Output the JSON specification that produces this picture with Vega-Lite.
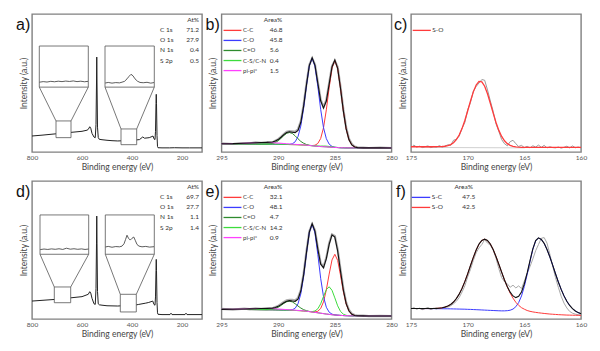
{
"$schema":"https://vega.github.io/schema/vega-lite/v6.json",
"background":"white",
"padding":{"left":15,"top":13,"right":5,"bottom":5},
"config":{
 "view":{"stroke":"#808080","strokeWidth":1.4},
 "axis":{"grid":false,"ticks":false,"domain":false,"labelFont":"Lato","labelFontSize":6.5,"labelColor":"#555","labelPadding":2.5,"labelFlush":false,"labelOverlap":false,"titleFont":"Lato","titleFontSize":8.5,"titleFontWeight":"normal","titleColor":"#444","titlePadding":1},
 "axisY":{"labels":false,"titlePadding":4},
 "text":{"font":"Lato","fontSize":6.5,"color":"#333"},
 "title":{"anchor":"start","frame":"group","offset":-4,"dy":15,"font":"Liberation Sans","fontSize":16,"fontWeight":"normal","color":"#111"}
},
"datasets":{
 "survey_a":[{"x":800,"y":11.6},{"x":760,"y":12.2},{"x":720,"y":12.9},{"x":680,"y":13.6},{"x":640,"y":14.3},{"x":600,"y":15.0},{"x":580,"y":15.8},{"x":575,"y":16.4},{"x":569,"y":18.3},{"x":565,"y":17.2},{"x":560,"y":13.5},{"x":552,"y":10.8},{"x":547,"y":10.4},{"x":544,"y":20},{"x":542,"y":50},{"x":541,"y":68.8},{"x":540,"y":50},{"x":538,"y":18},{"x":535,"y":10.5},{"x":531,"y":9.2},{"x":520,"y":8.9},{"x":500,"y":8.5},{"x":480,"y":8.2},{"x":457,"y":8.0},{"x":430,"y":8.2},{"x":410,"y":8.4},{"x":402,"y":9.2},{"x":398,"y":9.0},{"x":390,"y":8.6},{"x":370,"y":9.0},{"x":357,"y":10.9},{"x":350,"y":10.0},{"x":340,"y":10.2},{"x":331,"y":10.4},{"x":320,"y":11.2},{"x":316,"y":11.6},{"x":312,"y":9.5},{"x":308,"y":9.0},{"x":306,"y":15},{"x":304,"y":35},{"x":303,"y":41.8},{"x":302,"y":35},{"x":300,"y":12},{"x":298,"y":4},{"x":296,"y":3.1},{"x":280,"y":3.0},{"x":250,"y":3.0},{"x":230,"y":3.1},{"x":200,"y":3.0},{"x":170,"y":3.0},{"x":120,"y":3.0}],
 "survey_d":[{"x":800,"y":13.0},{"x":700,"y":14.3},{"x":600,"y":16.2},{"x":575,"y":17.9},{"x":569,"y":19.8},{"x":565,"y":18.8},{"x":560,"y":15.0},{"x":552,"y":11.0},{"x":547,"y":10.6},{"x":544,"y":22},{"x":542,"y":55},{"x":541,"y":74.6},{"x":540,"y":55},{"x":538,"y":20},{"x":535,"y":11.0},{"x":531,"y":10.3},{"x":520,"y":10.0},{"x":500,"y":9.6},{"x":457,"y":9.4},{"x":440,"y":9.6},{"x":420,"y":10.4},{"x":405,"y":11.5},{"x":398,"y":10.8},{"x":390,"y":10.0},{"x":375,"y":10.5},{"x":360,"y":11.0},{"x":345,"y":11.5},{"x":333,"y":12.0},{"x":320,"y":12.8},{"x":317,"y":13.0},{"x":312,"y":10.5},{"x":308,"y":10.0},{"x":306,"y":16},{"x":304,"y":35},{"x":303,"y":43.2},{"x":302,"y":35},{"x":300,"y":12},{"x":298,"y":4.5},{"x":296,"y":3.4},{"x":280,"y":3.2},{"x":248,"y":3.2},{"x":244,"y":4.2},{"x":240,"y":3.2},{"x":188,"y":3.2},{"x":184,"y":4.2},{"x":180,"y":3.2},{"x":140,"y":3.2},{"x":120,"y":3.2}],
 "box_a":[{"x":770.8,"x2":574.8,"y":76.8,"y2":47.0},{"x":704,"x2":644,"y":22.5,"y2":10.4},{"x":508,"x2":310.8,"y":76.8,"y2":47.0},{"x":444,"x2":381.2,"y":16.7,"y2":5.3}],
 "link_a":[{"x":770.8,"y":47.0,"x2":704,"y2":22.5},{"x":574.8,"y":47.0,"x2":644,"y2":22.5},{"x":508,"y":47.0,"x2":444,"y2":16.7},{"x":310.8,"y":47.0,"x2":381.2,"y2":16.7}],
 "trace_a":[{"g":"i1","x":770,"y":50.6},{"g":"i1","x":755,"y":51.0},{"g":"i1","x":740,"y":50.7},{"g":"i1","x":725,"y":51.2},{"g":"i1","x":710,"y":50.9},{"g":"i1","x":695,"y":51.3},{"g":"i1","x":680,"y":51.0},{"g":"i1","x":665,"y":51.4},{"g":"i1","x":650,"y":51.1},{"g":"i1","x":635,"y":51.5},{"g":"i1","x":620,"y":51.0},{"g":"i1","x":605,"y":51.3},{"g":"i1","x":590,"y":50.9},{"g":"i1","x":576,"y":51.2},
  {"g":"i2","x":507,"y":50.0},{"g":"i2","x":495,"y":50.4},{"g":"i2","x":480,"y":49.9},{"g":"i2","x":465,"y":50.3},{"g":"i2","x":450,"y":50.1},{"g":"i2","x":440,"y":50.6},{"g":"i2","x":430,"y":51.2},{"g":"i2","x":420,"y":53.0},{"g":"i2","x":412,"y":54.8},{"g":"i2","x":404,"y":56.3},{"g":"i2","x":396,"y":55.2},{"g":"i2","x":388,"y":53.0},{"g":"i2","x":378,"y":51.3},{"g":"i2","x":368,"y":50.4},{"g":"i2","x":355,"y":50.2},{"g":"i2","x":340,"y":50.5},{"g":"i2","x":325,"y":49.9},{"g":"i2","x":312,"y":50.3}],
 "box_d":[{"x":768,"x2":573.2,"y":75.4,"y2":46.9},{"x":710.8,"x2":645.2,"y":23.2,"y2":11.8},{"x":506.8,"x2":310.8,"y":75.4,"y2":46.9},{"x":446.8,"x2":382.8,"y":17.9,"y2":5.1}],
 "link_d":[{"x":768,"y":46.9,"x2":710.8,"y2":23.2},{"x":573.2,"y":46.9,"x2":645.2,"y2":23.2},{"x":506.8,"y":46.9,"x2":446.8,"y2":17.9},{"x":310.8,"y":46.9,"x2":382.8,"y2":17.9}],
 "trace_d":[{"g":"i1","x":767,"y":50.3},{"g":"i1","x":752,"y":50.7},{"g":"i1","x":737,"y":50.4},{"g":"i1","x":722,"y":50.8},{"g":"i1","x":707,"y":50.5},{"g":"i1","x":692,"y":50.9},{"g":"i1","x":677,"y":50.4},{"g":"i1","x":662,"y":51.3},{"g":"i1","x":647,"y":50.6},{"g":"i1","x":632,"y":50.9},{"g":"i1","x":617,"y":50.5},{"g":"i1","x":602,"y":50.8},{"g":"i1","x":588,"y":50.4},{"g":"i1","x":574,"y":50.7},
  {"g":"i2","x":506,"y":52.2},{"g":"i2","x":495,"y":52.6},{"g":"i2","x":480,"y":52.0},{"g":"i2","x":465,"y":52.5},{"g":"i2","x":450,"y":52.3},{"g":"i2","x":440,"y":52.8},{"g":"i2","x":432,"y":54.5},{"g":"i2","x":426,"y":57.5},{"g":"i2","x":420,"y":60.7},{"g":"i2","x":414,"y":58.5},{"g":"i2","x":407,"y":57.2},{"g":"i2","x":400,"y":58.5},{"g":"i2","x":393,"y":59.4},{"g":"i2","x":387,"y":57.0},{"g":"i2","x":380,"y":54.0},{"g":"i2","x":372,"y":52.8},{"g":"i2","x":360,"y":52.3},{"g":"i2","x":345,"y":52.6},{"g":"i2","x":330,"y":52.1},{"g":"i2","x":312,"y":52.4}],
 "at_a":[{"name":"","val":"At%","r":0},{"name":"C 1s","val":"71.2","r":1},{"name":"O 1s","val":"27.9","r":2},{"name":"N 1s","val":"0.4","r":3},{"name":"S 2p","val":"0.5","r":4}],
 "at_d":[{"name":"","val":"At%","r":0},{"name":"C 1s","val":"69.7","r":1},{"name":"O 1s","val":"27.7","r":2},{"name":"N 1s","val":"1.1","r":3},{"name":"S 2p","val":"1.4","r":4}],
 "hdr":[{"t":"Area%","r":0}],
 "leg_b":[{"series":"C-C","val":"46.8","r":1},{"series":"C-O","val":"45.8","r":2},{"series":"C=O","val":"5.6","r":3},{"series":"C-S/C-N","val":"0.4","r":4},{"series":"pi-pi*","val":"1.5","r":5}],
 "leg_e":[{"series":"C-C","val":"32.1","r":1},{"series":"C-O","val":"48.1","r":2},{"series":"C=O","val":"4.7","r":3},{"series":"C-S/C-N","val":"14.2","r":4},{"series":"pi-pi*","val":"0.9","r":5}],
 "leg_c":[{"series":"S-O","r":1}],
 "leg_f":[{"series":"S-C","val":"47.5","r":1},{"series":"S-O","val":"42.5","r":2}],
 "b":[
  {"x":295,"C-C":6.0,"C-O":6.0,"C=O":6.0,"C-S/C-N":6.0,"pi-pi*":6.01,"fit":6.01,"raw":6.3},
  {"x":294,"C-C":5.95,"C-O":5.95,"C=O":5.95,"C-S/C-N":5.95,"pi-pi*":6.05,"fit":6.05,"raw":5.8},
  {"x":293,"C-C":5.9,"C-O":5.9,"C=O":5.9,"C-S/C-N":5.9,"pi-pi*":6.3,"fit":6.3,"raw":6.5},
  {"x":292.5,"C-C":5.85,"C-O":5.85,"C=O":5.85,"C-S/C-N":5.85,"pi-pi*":6.5,"fit":6.5,"raw":6.3},
  {"x":292,"C-C":5.8,"C-O":5.8,"C=O":5.8,"C-S/C-N":5.8,"pi-pi*":6.7,"fit":6.7,"raw":6.9},
  {"x":291.5,"C-C":5.75,"C-O":5.75,"C=O":5.75,"C-S/C-N":5.75,"pi-pi*":6.85,"fit":6.85,"raw":6.7},
  {"x":291,"C-C":5.7,"C-O":5.7,"C=O":5.76,"C-S/C-N":5.7,"pi-pi*":6.9,"fit":6.96,"raw":7.2},
  {"x":290.5,"C-C":5.65,"C-O":5.65,"C=O":6.15,"C-S/C-N":5.65,"pi-pi*":6.75,"fit":7.25,"raw":7.0},
  {"x":290.25,"C-C":5.6,"C-O":5.6,"C=O":6.9,"C-S/C-N":5.6,"pi-pi*":6.6,"fit":7.9,"raw":8.2},
  {"x":290,"C-C":5.6,"C-O":5.6,"C=O":8.1,"C-S/C-N":5.6,"pi-pi*":6.5,"fit":9.0,"raw":9.3},
  {"x":289.75,"C-C":5.55,"C-O":5.55,"C=O":9.9,"C-S/C-N":5.55,"pi-pi*":6.33,"fit":10.68,"raw":11.0},
  {"x":289.5,"C-C":5.5,"C-O":5.5,"C=O":11.9,"C-S/C-N":5.5,"pi-pi*":6.15,"fit":12.55,"raw":12.9},
  {"x":289.25,"C-C":5.45,"C-O":5.48,"C=O":13.55,"C-S/C-N":5.45,"pi-pi*":5.97,"fit":14.1,"raw":14.6},
  {"x":289,"C-C":5.4,"C-O":5.55,"C=O":14.1,"C-S/C-N":5.4,"pi-pi*":5.8,"fit":14.65,"raw":15.2},
  {"x":288.75,"C-C":5.35,"C-O":5.95,"C=O":13.45,"C-S/C-N":5.35,"pi-pi*":5.65,"fit":14.35,"raw":15.0},
  {"x":288.5,"C-C":5.3,"C-O":7.4,"C=O":11.7,"C-S/C-N":5.3,"pi-pi*":5.52,"fit":14.02,"raw":14.8},
  {"x":288.25,"C-C":5.25,"C-O":11.15,"C=O":9.6,"C-S/C-N":5.25,"pi-pi*":5.4,"fit":15.65,"raw":16.5},
  {"x":288,"C-C":5.15,"C-O":18.95,"C=O":7.65,"C-S/C-N":5.15,"pi-pi*":5.25,"fit":21.55,"raw":22.4},
  {"x":287.75,"C-C":5.05,"C-O":32.05,"C=O":6.35,"C-S/C-N":5.05,"pi-pi*":5.12,"fit":33.42,"raw":34.5},
  {"x":287.5,"C-C":4.9,"C-O":48.3,"C=O":5.4,"C-S/C-N":4.9,"pi-pi*":4.95,"fit":48.85,"raw":49.8},
  {"x":287.25,"C-C":4.73,"C-O":62.4,"C=O":4.9,"C-S/C-N":4.71,"pi-pi*":4.73,"fit":62.67,"raw":63.2},
  {"x":287,"C-C":4.65,"C-O":68.0,"C=O":4.56,"C-S/C-N":4.55,"pi-pi*":4.52,"fit":68.28,"raw":68.0},
  {"x":286.75,"C-C":4.9,"C-O":62.0,"C=O":4.32,"C-S/C-N":4.42,"pi-pi*":4.31,"fit":62.75,"raw":63.4},
  {"x":286.5,"C-C":6.2,"C-O":47.5,"C=O":4.1,"C-S/C-N":4.32,"pi-pi*":4.1,"fit":49.82,"raw":50.8},
  {"x":286.25,"C-C":9.75,"C-O":30.95,"C=O":3.95,"C-S/C-N":4.3,"pi-pi*":3.95,"fit":37.1,"raw":38.0},
  {"x":286,"C-C":17.55,"C-O":17.65,"C=O":3.85,"C-S/C-N":4.32,"pi-pi*":3.85,"fit":31.82,"raw":32.6},
  {"x":285.75,"C-C":30.55,"C-O":9.65,"C=O":3.75,"C-S/C-N":4.25,"pi-pi*":3.75,"fit":36.95,"raw":37.8},
  {"x":285.5,"C-C":46.7,"C-O":5.7,"C=O":3.6,"C-S/C-N":4.02,"pi-pi*":3.6,"fit":49.22,"raw":50.1},
  {"x":285.25,"C-C":60.75,"C-O":4.05,"C=O":3.45,"C-S/C-N":3.75,"pi-pi*":3.45,"fit":61.65,"raw":62.3},
  {"x":285,"C-C":66.3,"C-O":3.45,"C=O":3.3,"C-S/C-N":3.48,"pi-pi*":3.3,"fit":66.63,"raw":66.2},
  {"x":284.75,"C-C":60.5,"C-O":3.23,"C=O":3.2,"C-S/C-N":3.29,"pi-pi*":3.2,"fit":60.62,"raw":61.5},
  {"x":284.5,"C-C":46.2,"C-O":3.1,"C=O":3.1,"C-S/C-N":3.13,"pi-pi*":3.1,"fit":46.23,"raw":47.3},
  {"x":284.25,"C-C":29.85,"C-O":3.05,"C=O":3.05,"C-S/C-N":3.05,"pi-pi*":3.05,"fit":29.85,"raw":31.0},
  {"x":284,"C-C":16.7,"C-O":3.0,"C=O":3.0,"C-S/C-N":3.0,"pi-pi*":3.0,"fit":16.7,"raw":17.8},
  {"x":283.75,"C-C":8.8,"C-O":3.0,"C=O":3.0,"C-S/C-N":3.0,"pi-pi*":3.0,"fit":8.8,"raw":9.6},
  {"x":283.5,"C-C":5.1,"C-O":3.0,"C=O":3.0,"C-S/C-N":3.0,"pi-pi*":3.0,"fit":5.1,"raw":5.8},
  {"x":283.25,"C-C":3.6,"C-O":3.0,"C=O":3.0,"C-S/C-N":3.0,"pi-pi*":3.0,"fit":3.6,"raw":4.0},
  {"x":283,"C-C":3.15,"C-O":3.0,"C=O":3.0,"C-S/C-N":3.0,"pi-pi*":3.0,"fit":3.15,"raw":3.4},
  {"x":282.5,"C-C":3.0,"C-O":3.0,"C=O":3.0,"C-S/C-N":3.0,"pi-pi*":3.0,"fit":3.0,"raw":3.2},
  {"x":282,"C-C":2.98,"C-O":2.98,"C=O":2.98,"C-S/C-N":2.98,"pi-pi*":2.98,"fit":2.98,"raw":2.9},
  {"x":281,"C-C":2.96,"C-O":2.96,"C=O":2.96,"C-S/C-N":2.96,"pi-pi*":2.96,"fit":2.96,"raw":3.1},
  {"x":280,"C-C":2.95,"C-O":2.95,"C=O":2.95,"C-S/C-N":2.95,"pi-pi*":2.95,"fit":2.95,"raw":2.9}],
 "e":[
  {"x":295,"C-C":7.0,"C-O":7.0,"C=O":7.0,"C-S/C-N":7.0,"pi-pi*":7.01,"fit":7.01,"raw":7.3},
  {"x":294,"C-C":6.95,"C-O":6.95,"C=O":6.95,"C-S/C-N":6.95,"pi-pi*":7.03,"fit":7.03,"raw":6.8},
  {"x":293,"C-C":6.9,"C-O":6.9,"C=O":6.9,"C-S/C-N":6.9,"pi-pi*":7.2,"fit":7.2,"raw":7.5},
  {"x":292.5,"C-C":6.85,"C-O":6.85,"C=O":6.85,"C-S/C-N":6.85,"pi-pi*":7.35,"fit":7.35,"raw":7.1},
  {"x":292,"C-C":6.8,"C-O":6.8,"C=O":6.8,"C-S/C-N":6.8,"pi-pi*":7.48,"fit":7.48,"raw":7.8},
  {"x":291.5,"C-C":6.75,"C-O":6.75,"C=O":6.75,"C-S/C-N":6.75,"pi-pi*":7.58,"fit":7.58,"raw":7.4},
  {"x":291,"C-C":6.7,"C-O":6.7,"C=O":6.75,"C-S/C-N":6.7,"pi-pi*":7.6,"fit":7.65,"raw":7.9},
  {"x":290.5,"C-C":6.65,"C-O":6.65,"C=O":7.06,"C-S/C-N":6.65,"pi-pi*":7.48,"fit":7.89,"raw":7.7},
  {"x":290.25,"C-C":6.6,"C-O":6.6,"C=O":7.56,"C-S/C-N":6.6,"pi-pi*":7.37,"fit":8.33,"raw":8.6},
  {"x":290,"C-C":6.55,"C-O":6.55,"C=O":8.48,"C-S/C-N":6.55,"pi-pi*":7.23,"fit":9.16,"raw":9.5},
  {"x":289.75,"C-C":6.5,"C-O":6.5,"C=O":9.8,"C-S/C-N":6.5,"pi-pi*":7.1,"fit":10.4,"raw":10.9},
  {"x":289.5,"C-C":6.45,"C-O":6.45,"C=O":11.3,"C-S/C-N":6.45,"pi-pi*":6.95,"fit":11.8,"raw":12.3},
  {"x":289.25,"C-C":6.4,"C-O":6.42,"C=O":12.5,"C-S/C-N":6.4,"pi-pi*":6.8,"fit":12.92,"raw":13.5},
  {"x":289,"C-C":6.35,"C-O":6.44,"C=O":12.95,"C-S/C-N":6.35,"pi-pi*":6.65,"fit":13.34,"raw":13.9},
  {"x":288.75,"C-C":6.3,"C-O":6.72,"C=O":12.4,"C-S/C-N":6.3,"pi-pi*":6.53,"fit":13.05,"raw":13.8},
  {"x":288.5,"C-C":6.2,"C-O":7.8,"C=O":11.05,"C-S/C-N":6.2,"pi-pi*":6.37,"fit":12.82,"raw":13.6},
  {"x":288.25,"C-C":6.1,"C-O":11.0,"C=O":9.4,"C-S/C-N":6.1,"pi-pi*":6.22,"fit":14.42,"raw":15.3},
  {"x":288,"C-C":6.0,"C-O":18.3,"C=O":7.93,"C-S/C-N":6.0,"pi-pi*":6.08,"fit":20.31,"raw":21.2},
  {"x":287.75,"C-C":5.8,"C-O":31.1,"C=O":6.76,"C-S/C-N":5.8,"pi-pi*":5.85,"fit":32.11,"raw":33.2},
  {"x":287.5,"C-C":5.6,"C-O":47.8,"C=O":6.01,"C-S/C-N":5.6,"pi-pi*":5.63,"fit":48.24,"raw":49.3},
  {"x":287.25,"C-C":5.36,"C-O":62.75,"C=O":5.5,"C-S/C-N":5.4,"pi-pi*":5.37,"fit":62.98,"raw":63.6},
  {"x":287,"C-C":5.16,"C-O":68.7,"C=O":5.15,"C-S/C-N":5.36,"pi-pi*":5.11,"fit":69.08,"raw":68.8},
  {"x":286.75,"C-C":5.09,"C-O":62.2,"C=O":4.81,"C-S/C-N":5.8,"pi-pi*":4.8,"fit":63.5,"raw":64.3},
  {"x":286.5,"C-C":5.6,"C-O":46.7,"C=O":4.5,"C-S/C-N":7.4,"pi-pi*":4.5,"fit":50.7,"raw":51.7},
  {"x":286.25,"C-C":7.6,"C-O":29.5,"C=O":4.2,"C-S/C-N":11.0,"pi-pi*":4.2,"fit":39.7,"raw":40.6},
  {"x":286,"C-C":12.4,"C-O":16.2,"C=O":3.9,"C-S/C-N":16.3,"pi-pi*":3.9,"fit":37.1,"raw":37.8},
  {"x":285.75,"C-C":21.1,"C-O":8.5,"C=O":3.6,"C-S/C-N":21.3,"pi-pi*":3.6,"fit":43.7,"raw":44.5},
  {"x":285.5,"C-C":32.55,"C-O":4.95,"C=O":3.35,"C-S/C-N":23.35,"pi-pi*":3.35,"fit":54.15,"raw":55.0},
  {"x":285.25,"C-C":42.8,"C-O":3.52,"C=O":3.1,"C-S/C-N":20.8,"pi-pi*":3.1,"fit":60.92,"raw":61.3},
  {"x":285,"C-C":46.9,"C-O":2.99,"C=O":2.9,"C-S/C-N":15.3,"pi-pi*":2.9,"fit":59.39,"raw":60.2},
  {"x":284.75,"C-C":42.45,"C-O":2.77,"C=O":2.75,"C-S/C-N":9.55,"pi-pi*":2.75,"fit":49.27,"raw":50.4},
  {"x":284.5,"C-C":31.8,"C-O":2.6,"C=O":2.6,"C-S/C-N":5.5,"pi-pi*":2.6,"fit":34.7,"raw":35.9},
  {"x":284.25,"C-C":20.0,"C-O":2.5,"C=O":2.5,"C-S/C-N":3.5,"pi-pi*":2.5,"fit":21.0,"raw":22.2},
  {"x":284,"C-C":10.9,"C-O":2.4,"C=O":2.4,"C-S/C-N":2.66,"pi-pi*":2.4,"fit":11.16,"raw":12.0},
  {"x":283.75,"C-C":5.75,"C-O":2.35,"C=O":2.35,"C-S/C-N":2.4,"pi-pi*":2.35,"fit":5.8,"raw":6.5},
  {"x":283.5,"C-C":3.4,"C-O":2.3,"C=O":2.3,"C-S/C-N":2.3,"pi-pi*":2.3,"fit":3.4,"raw":3.9},
  {"x":283.25,"C-C":2.59,"C-O":2.3,"C=O":2.3,"C-S/C-N":2.3,"pi-pi*":2.3,"fit":2.59,"raw":2.9},
  {"x":283,"C-C":2.31,"C-O":2.25,"C=O":2.25,"C-S/C-N":2.25,"pi-pi*":2.25,"fit":2.31,"raw":2.5},
  {"x":282.5,"C-C":2.25,"C-O":2.25,"C=O":2.25,"C-S/C-N":2.25,"pi-pi*":2.25,"fit":2.25,"raw":2.4},
  {"x":282,"C-C":2.2,"C-O":2.2,"C=O":2.2,"C-S/C-N":2.2,"pi-pi*":2.2,"fit":2.2,"raw":2.1},
  {"x":281,"C-C":2.2,"C-O":2.2,"C=O":2.2,"C-S/C-N":2.2,"pi-pi*":2.2,"fit":2.2,"raw":2.3},
  {"x":280,"C-C":2.2,"C-O":2.2,"C=O":2.2,"C-S/C-N":2.2,"pi-pi*":2.2,"fit":2.2,"raw":2.1}],
 "c":[
  {"x":175,"S-O":3.8,"raw":3.0},{"x":174.75,"S-O":3.8,"raw":5.0},{"x":174.5,"S-O":3.8,"raw":3.5},{"x":174.25,"S-O":3.8,"raw":4.2},{"x":174,"S-O":3.8,"raw":3.2},{"x":173.75,"S-O":3.8,"raw":3.9},{"x":173.5,"S-O":3.8,"raw":4.4},{"x":173.25,"S-O":3.81,"raw":3.1},{"x":173,"S-O":3.82,"raw":4.0},{"x":172.75,"S-O":3.84,"raw":3.4},{"x":172.5,"S-O":3.87,"raw":4.6},{"x":172.25,"S-O":3.97,"raw":3.6},{"x":172,"S-O":4.18,"raw":4.3},{"x":171.75,"S-O":4.61,"raw":5.2},{"x":171.5,"S-O":5.39,"raw":4.8},{"x":171.25,"S-O":6.76,"raw":8.5},{"x":171,"S-O":8.97,"raw":9.2},{"x":170.75,"S-O":12.32,"raw":11.5},{"x":170.5,"S-O":16.94,"raw":17.0},{"x":170.25,"S-O":22.85,"raw":21.5},{"x":170,"S-O":29.75,"raw":30.5},{"x":169.75,"S-O":36.95,"raw":36.0},{"x":169.5,"S-O":43.57,"raw":44.0},{"x":169.25,"S-O":48.57,"raw":47.5},{"x":169,"S-O":51.18,"raw":50.0},{"x":168.75,"S-O":50.87,"raw":52.5},{"x":168.5,"S-O":47.7,"raw":52.0},{"x":168.25,"S-O":42.23,"raw":45.0},{"x":168,"S-O":35.37,"raw":37.0},{"x":167.75,"S-O":28.14,"raw":29.5},{"x":167.5,"S-O":21.38,"raw":20.5},{"x":167.25,"S-O":15.66,"raw":15.0},{"x":167,"S-O":11.27,"raw":9.0},{"x":166.75,"S-O":8.13,"raw":6.0},{"x":166.5,"S-O":6.07,"raw":4.5},{"x":166.25,"S-O":4.81,"raw":7.5},{"x":166,"S-O":4.08,"raw":8.5},{"x":165.75,"S-O":3.69,"raw":6.0},{"x":165.5,"S-O":3.49,"raw":4.0},{"x":165.25,"S-O":3.4,"raw":4.8},{"x":165,"S-O":3.35,"raw":3.2},{"x":164.75,"S-O":3.33,"raw":4.1},{"x":164.5,"S-O":3.32,"raw":3.0},{"x":164.25,"S-O":3.31,"raw":4.5},{"x":164,"S-O":3.3,"raw":3.6},{"x":163.75,"S-O":3.3,"raw":5.0},{"x":163.5,"S-O":3.3,"raw":3.4},{"x":163.25,"S-O":3.3,"raw":4.8},{"x":163,"S-O":3.3,"raw":3.0},{"x":162.75,"S-O":3.3,"raw":3.8},{"x":162.5,"S-O":3.3,"raw":3.2},{"x":162.25,"S-O":3.3,"raw":3.0},{"x":162,"S-O":3.3,"raw":3.6},{"x":161.75,"S-O":3.3,"raw":2.8},{"x":161.5,"S-O":3.3,"raw":3.4},{"x":161.25,"S-O":3.3,"raw":4.2},{"x":161,"S-O":3.3,"raw":3.0},{"x":160.75,"S-O":3.3,"raw":4.4},{"x":160.5,"S-O":3.3,"raw":3.1},{"x":160.25,"S-O":3.3,"raw":3.6},{"x":160,"S-O":3.3,"raw":3.0}],
 "bg_c":[{"x":174,"y":3.3},{"x":165,"y":3.0}],
 "f":[
  {"x":175,"S-O":7.6,"S-C":7.6,"fit":7.6,"raw":7.2},{"x":174.75,"S-O":7.6,"S-C":7.6,"fit":7.6,"raw":8.3},{"x":174.5,"S-O":7.6,"S-C":7.6,"fit":7.6,"raw":7.0},{"x":174.25,"S-O":7.6,"S-C":7.6,"fit":7.6,"raw":7.9},{"x":174,"S-O":7.55,"S-C":7.55,"fit":7.55,"raw":6.8},{"x":173.75,"S-O":7.56,"S-C":7.55,"fit":7.56,"raw":7.6},{"x":173.5,"S-O":7.57,"S-C":7.55,"fit":7.57,"raw":8.4},{"x":173.25,"S-O":7.55,"S-C":7.5,"fit":7.55,"raw":7.1},{"x":173,"S-O":7.6,"S-C":7.5,"fit":7.6,"raw":7.8},{"x":172.75,"S-O":7.7,"S-C":7.5,"fit":7.7,"raw":7.2},{"x":172.5,"S-O":7.82,"S-C":7.45,"fit":7.82,"raw":8.1},{"x":172.25,"S-O":8.12,"S-C":7.45,"fit":8.12,"raw":7.5},{"x":172,"S-O":8.6,"S-C":7.4,"fit":8.6,"raw":8.8},{"x":171.75,"S-O":9.4,"S-C":7.4,"fit":9.4,"raw":8.6},{"x":171.5,"S-O":10.55,"S-C":7.35,"fit":10.55,"raw":9.6},{"x":171.25,"S-O":12.3,"S-C":7.3,"fit":12.3,"raw":11.0},{"x":171,"S-O":14.75,"S-C":7.25,"fit":14.75,"raw":12.8},{"x":170.75,"S-O":18.0,"S-C":7.2,"fit":18.0,"raw":15.5},{"x":170.5,"S-O":22.15,"S-C":7.15,"fit":22.15,"raw":19.5},{"x":170.25,"S-O":27.1,"S-C":7.1,"fit":27.1,"raw":24.0},{"x":170,"S-O":32.7,"S-C":7.0,"fit":32.7,"raw":30.5},{"x":169.75,"S-O":38.75,"S-C":6.95,"fit":38.75,"raw":36.0},{"x":169.5,"S-O":44.65,"S-C":6.85,"fit":44.65,"raw":42.5},{"x":169.25,"S-O":49.95,"S-C":6.75,"fit":49.95,"raw":48.0},{"x":169,"S-O":54.25,"S-C":6.65,"fit":54.25,"raw":51.5},{"x":168.75,"S-O":56.95,"S-C":6.55,"fit":56.95,"raw":54.0},{"x":168.5,"S-O":57.85,"S-C":6.45,"fit":57.85,"raw":57.5},{"x":168.25,"S-O":56.85,"S-C":6.35,"fit":56.85,"raw":55.0},{"x":168,"S-O":54.35,"S-C":6.25,"fit":54.35,"raw":53.5},{"x":167.75,"S-O":50.35,"S-C":6.15,"fit":50.35,"raw":50.0},{"x":167.5,"S-O":45.25,"S-C":6.05,"fit":45.25,"raw":44.0},{"x":167.25,"S-O":39.65,"S-C":5.96,"fit":39.66,"raw":36.5},{"x":167,"S-O":33.85,"S-C":5.89,"fit":33.89,"raw":30.0},{"x":166.75,"S-O":28.2,"S-C":5.91,"fit":28.31,"raw":27.0},{"x":166.5,"S-O":23.15,"S-C":6.04,"fit":23.44,"raw":25.5},{"x":166.25,"S-O":18.75,"S-C":6.36,"fit":19.46,"raw":23.0},{"x":166,"S-O":15.1,"S-C":7.2,"fit":16.7,"raw":24.5},{"x":165.75,"S-O":12.1,"S-C":8.9,"fit":15.5,"raw":22.5},{"x":165.5,"S-O":9.9,"S-C":11.9,"fit":16.4,"raw":24.0},{"x":165.25,"S-O":8.2,"S-C":16.7,"fit":19.6,"raw":22.0},{"x":165,"S-O":7.1,"S-C":23.6,"fit":25.5,"raw":27.5},{"x":164.75,"S-O":6.15,"S-C":32.25,"fit":33.35,"raw":33.0},{"x":164.5,"S-O":5.57,"S-C":41.7,"fit":42.37,"raw":38.0},{"x":164.25,"S-O":5.14,"S-C":50.45,"fit":50.84,"raw":43.5},{"x":164,"S-O":4.81,"S-C":56.6,"fit":56.81,"raw":49.5},{"x":163.75,"S-O":4.51,"S-C":58.7,"fit":58.81,"raw":54.0},{"x":163.5,"S-O":4.26,"S-C":57.6,"fit":57.66,"raw":58.5},{"x":163.25,"S-O":4.03,"S-C":54.8,"fit":54.83,"raw":59.0},{"x":163,"S-O":3.8,"S-C":50.4,"fit":50.4,"raw":55.0},{"x":162.75,"S-O":3.6,"S-C":45.0,"fit":45.0,"raw":47.0},{"x":162.5,"S-O":3.45,"S-C":39.05,"fit":39.05,"raw":38.5},{"x":162.25,"S-O":3.3,"S-C":32.8,"fit":32.8,"raw":30.0},{"x":162,"S-O":3.15,"S-C":26.85,"fit":26.85,"raw":23.0},{"x":161.75,"S-O":3.05,"S-C":21.45,"fit":21.45,"raw":16.5},{"x":161.5,"S-O":2.95,"S-C":16.75,"fit":16.75,"raw":11.5},{"x":161.25,"S-O":2.85,"S-C":12.85,"fit":12.85,"raw":8.0},{"x":161,"S-O":2.8,"S-C":9.8,"fit":9.8,"raw":5.5},{"x":160.75,"S-O":2.75,"S-C":7.5,"fit":7.5,"raw":4.2},{"x":160.5,"S-O":2.7,"S-C":5.8,"fit":5.8,"raw":3.5},{"x":160.25,"S-O":2.65,"S-C":4.62,"fit":4.62,"raw":3.1},{"x":160,"S-O":2.6,"S-C":3.8,"fit":3.8,"raw":2.8}]
},
"concat":[
 {"width":170,"height":138,"title":{"text":"a)","dx":-16},"resolve":{"scale":{"y":"independent"}},
  "layer":[
   {"data":{"name":"survey_a"},"mark":{"type":"line","color":"#222","strokeWidth":1},
    "encoding":{"x":{"field":"x","type":"quantitative","scale":{"domain":[800,120],"nice":false,"zero":false},"axis":{"values":[800,600,400,200],"title":"Binding energy (eV)"}},"y":{"field":"y","type":"quantitative","scale":{"domain":[0,100],"nice":false},"axis":{"title":"Intensity (a.u.)"}}}},
   {"data":{"name":"box_a"},"mark":{"type":"rect","fill":"white","stroke":"#555","strokeWidth":0.8},
    "encoding":{"x":{"field":"x","type":"quantitative","scale":{"domain":[800,120],"nice":false,"zero":false},"axis":{"values":[800,600,400,200],"title":"Binding energy (eV)"}},"x2":{"field":"x2"},"y":{"field":"y","type":"quantitative","scale":{"domain":[0,100],"nice":false},"axis":null},"y2":{"field":"y2"}}},
   {"data":{"name":"link_a"},"mark":{"type":"rule","color":"#555","strokeWidth":0.8},
    "encoding":{"x":{"field":"x","type":"quantitative","scale":{"domain":[800,120],"nice":false,"zero":false},"axis":{"values":[800,600,400,200],"title":"Binding energy (eV)"}},"x2":{"field":"x2"},"y":{"field":"y","type":"quantitative","scale":{"domain":[0,100],"nice":false},"axis":null},"y2":{"field":"y2"}}},
   {"data":{"name":"trace_a"},"mark":{"type":"line","color":"#333","strokeWidth":0.8},
    "encoding":{"x":{"field":"x","type":"quantitative","scale":{"domain":[800,120],"nice":false,"zero":false},"axis":{"values":[800,600,400,200],"title":"Binding energy (eV)"}},"y":{"field":"y","type":"quantitative","scale":{"domain":[0,100],"nice":false},"axis":null},"detail":{"field":"g","type":"nominal"}}},
   {"data":{"name":"at_a"},"mark":{"type":"text","align":"left","baseline":"middle"},
    "encoding":{"x":{"datum":288,"type":"quantitative","scale":{"domain":[800,120],"nice":false,"zero":false},"axis":{"values":[800,600,400,200],"title":"Binding energy (eV)"}},"y":{"field":"r","type":"quantitative","scale":{"domain":[13.1,-0.63],"nice":false,"zero":false},"axis":null},"text":{"field":"name","type":"nominal"}}},
   {"data":{"name":"at_a"},"mark":{"type":"text","align":"right","baseline":"middle"},
    "encoding":{"x":{"datum":132,"type":"quantitative","scale":{"domain":[800,120],"nice":false,"zero":false},"axis":{"values":[800,600,400,200],"title":"Binding energy (eV)"}},"y":{"field":"r","type":"quantitative","scale":{"domain":[13.1,-0.63],"nice":false,"zero":false},"axis":null},"text":{"field":"val","type":"nominal"}}}
  ]},
 {"width":170,"height":138,"title":{"text":"b)","dx":-16},"resolve":{"scale":{"y":"independent"}},
  "layer":[
   {"data":{"name":"b"},"transform":[{"fold":["raw"],"as":["k","y"]}],"mark":{"type":"line","color":"#b0b0b0","strokeWidth":2.2},
    "encoding":{"x":{"field":"x","type":"quantitative","scale":{"domain":[295,280],"nice":false,"zero":false},"axis":{"values":[295,290,285,280],"title":"Binding energy (eV)"}},"y":{"field":"y","type":"quantitative","scale":{"domain":[0,100],"nice":false},"axis":{"title":"Intensity (a.u.)"}}}},
   {"data":{"name":"b"},"transform":[{"fold":["C-C","C-O","C=O","C-S/C-N","pi-pi*"],"as":["series","y"]}],"mark":{"type":"line","strokeWidth":1},
    "encoding":{"x":{"field":"x","type":"quantitative","scale":{"domain":[295,280],"nice":false,"zero":false},"axis":{"values":[295,290,285,280],"title":"Binding energy (eV)"}},"y":{"field":"y","type":"quantitative","scale":{"domain":[0,100],"nice":false},"axis":null},
     "color":{"field":"series","type":"nominal","scale":{"domain":["C-C","C-O","C=O","C-S/C-N","pi-pi*","S-C","S-O"],"range":["#ff3b3b","#3c3cff","#2e8b2e","#3ddc3d","#ff40ff","#3c3cff","#ff3b3b"]},"legend":null}}},
   {"data":{"name":"b"},"transform":[{"fold":["fit"],"as":["k","y"]}],"mark":{"type":"line","color":"#111","strokeWidth":1.1},
    "encoding":{"x":{"field":"x","type":"quantitative","scale":{"domain":[295,280],"nice":false,"zero":false},"axis":{"values":[295,290,285,280],"title":"Binding energy (eV)"}},"y":{"field":"y","type":"quantitative","scale":{"domain":[0,100],"nice":false},"axis":null}}},
   {"data":{"name":"leg_b"},"mark":{"type":"rule","strokeWidth":1.3},
    "encoding":{"x":{"datum":294.82,"type":"quantitative","scale":{"domain":[295,280],"nice":false,"zero":false},"axis":{"values":[295,290,285,280],"title":"Binding energy (eV)"}},"x2":{"datum":293.24},"y":{"field":"r","type":"quantitative","scale":{"domain":[13.1,-0.63],"nice":false,"zero":false},"axis":null},
     "color":{"field":"series","type":"nominal","scale":{"domain":["C-C","C-O","C=O","C-S/C-N","pi-pi*","S-C","S-O"],"range":["#ff3b3b","#3c3cff","#2e8b2e","#3ddc3d","#ff40ff","#3c3cff","#ff3b3b"]},"legend":null}}},
   {"data":{"name":"leg_b"},"mark":{"type":"text","align":"left","baseline":"middle","fontSize":6},
    "encoding":{"x":{"datum":293.1,"type":"quantitative","scale":{"domain":[295,280],"nice":false,"zero":false},"axis":{"values":[295,290,285,280],"title":"Binding energy (eV)"}},"y":{"field":"r","type":"quantitative","scale":{"domain":[13.1,-0.63],"nice":false,"zero":false},"axis":null},"text":{"field":"series","type":"nominal"}}},
   {"data":{"name":"leg_b"},"mark":{"type":"text","align":"left","baseline":"middle"},
    "encoding":{"x":{"datum":290.75,"type":"quantitative","scale":{"domain":[295,280],"nice":false,"zero":false},"axis":{"values":[295,290,285,280],"title":"Binding energy (eV)"}},"y":{"field":"r","type":"quantitative","scale":{"domain":[13.1,-0.63],"nice":false,"zero":false},"axis":null},"text":{"field":"val","type":"nominal"}}},
   {"data":{"name":"hdr"},"mark":{"type":"text","align":"center","baseline":"middle"},
    "encoding":{"x":{"datum":290.45,"type":"quantitative","scale":{"domain":[295,280],"nice":false,"zero":false},"axis":{"values":[295,290,285,280],"title":"Binding energy (eV)"}},"y":{"field":"r","type":"quantitative","scale":{"domain":[13.1,-0.63],"nice":false,"zero":false},"axis":null},"text":{"field":"t","type":"nominal"}}}
  ]},
 {"width":170,"height":138,"title":{"text":"c)","dx":-17},"resolve":{"scale":{"y":"independent"}},
  "layer":[
   {"data":{"name":"bg_c"},"mark":{"type":"line","color":"#d0d0d0","strokeWidth":1},
    "encoding":{"x":{"field":"x","type":"quantitative","scale":{"domain":[175,160],"nice":false,"zero":false},"axis":{"values":[175,170,165,160],"title":"Binding energy (eV)"}},"y":{"field":"y","type":"quantitative","scale":{"domain":[0,100],"nice":false},"axis":{"title":"Intensity (a.u.)"}}}},
   {"data":{"name":"c"},"transform":[{"fold":["raw"],"as":["k","y"]}],"mark":{"type":"line","color":"#9a9a9a","strokeWidth":1},
    "encoding":{"x":{"field":"x","type":"quantitative","scale":{"domain":[175,160],"nice":false,"zero":false},"axis":{"values":[175,170,165,160],"title":"Binding energy (eV)"}},"y":{"field":"y","type":"quantitative","scale":{"domain":[0,100],"nice":false},"axis":null}}},
   {"data":{"name":"c"},"transform":[{"fold":["S-O"],"as":["series","y"]}],"mark":{"type":"line","strokeWidth":1.3},
    "encoding":{"x":{"field":"x","type":"quantitative","scale":{"domain":[175,160],"nice":false,"zero":false},"axis":{"values":[175,170,165,160],"title":"Binding energy (eV)"}},"y":{"field":"y","type":"quantitative","scale":{"domain":[0,100],"nice":false},"axis":null},
     "color":{"field":"series","type":"nominal","scale":{"domain":["C-C","C-O","C=O","C-S/C-N","pi-pi*","S-C","S-O"],"range":["#ff3b3b","#3c3cff","#2e8b2e","#3ddc3d","#ff40ff","#3c3cff","#ff3b3b"]},"legend":null}}},
   {"data":{"name":"leg_c"},"mark":{"type":"rule","strokeWidth":1.3},
    "encoding":{"x":{"datum":174.85,"type":"quantitative","scale":{"domain":[175,160],"nice":false,"zero":false},"axis":{"values":[175,170,165,160],"title":"Binding energy (eV)"}},"x2":{"datum":173.25},"y":{"field":"r","type":"quantitative","scale":{"domain":[13.1,-0.63],"nice":false,"zero":false},"axis":null},
     "color":{"field":"series","type":"nominal","scale":{"domain":["C-C","C-O","C=O","C-S/C-N","pi-pi*","S-C","S-O"],"range":["#ff3b3b","#3c3cff","#2e8b2e","#3ddc3d","#ff40ff","#3c3cff","#ff3b3b"]},"legend":null}}},
   {"data":{"name":"leg_c"},"mark":{"type":"text","align":"left","baseline":"middle"},
    "encoding":{"x":{"datum":173.12,"type":"quantitative","scale":{"domain":[175,160],"nice":false,"zero":false},"axis":{"values":[175,170,165,160],"title":"Binding energy (eV)"}},"y":{"field":"r","type":"quantitative","scale":{"domain":[13.1,-0.63],"nice":false,"zero":false},"axis":null},"text":{"field":"series","type":"nominal"}}}
  ]},
 {"width":170,"height":138,"title":{"text":"d)","dx":-16},"resolve":{"scale":{"y":"independent"}},
  "layer":[
   {"data":{"name":"survey_d"},"mark":{"type":"line","color":"#222","strokeWidth":1},
    "encoding":{"x":{"field":"x","type":"quantitative","scale":{"domain":[800,120],"nice":false,"zero":false},"axis":{"values":[800,600,400,200],"title":"Binding energy (eV)"}},"y":{"field":"y","type":"quantitative","scale":{"domain":[0,100],"nice":false},"axis":{"title":"Intensity (a.u.)"}}}},
   {"data":{"name":"box_d"},"mark":{"type":"rect","fill":"white","stroke":"#555","strokeWidth":0.8},
    "encoding":{"x":{"field":"x","type":"quantitative","scale":{"domain":[800,120],"nice":false,"zero":false},"axis":{"values":[800,600,400,200],"title":"Binding energy (eV)"}},"x2":{"field":"x2"},"y":{"field":"y","type":"quantitative","scale":{"domain":[0,100],"nice":false},"axis":null},"y2":{"field":"y2"}}},
   {"data":{"name":"link_d"},"mark":{"type":"rule","color":"#555","strokeWidth":0.8},
    "encoding":{"x":{"field":"x","type":"quantitative","scale":{"domain":[800,120],"nice":false,"zero":false},"axis":{"values":[800,600,400,200],"title":"Binding energy (eV)"}},"x2":{"field":"x2"},"y":{"field":"y","type":"quantitative","scale":{"domain":[0,100],"nice":false},"axis":null},"y2":{"field":"y2"}}},
   {"data":{"name":"trace_d"},"mark":{"type":"line","color":"#333","strokeWidth":0.8},
    "encoding":{"x":{"field":"x","type":"quantitative","scale":{"domain":[800,120],"nice":false,"zero":false},"axis":{"values":[800,600,400,200],"title":"Binding energy (eV)"}},"y":{"field":"y","type":"quantitative","scale":{"domain":[0,100],"nice":false},"axis":null},"detail":{"field":"g","type":"nominal"}}},
   {"data":{"name":"at_d"},"mark":{"type":"text","align":"left","baseline":"middle"},
    "encoding":{"x":{"datum":288,"type":"quantitative","scale":{"domain":[800,120],"nice":false,"zero":false},"axis":{"values":[800,600,400,200],"title":"Binding energy (eV)"}},"y":{"field":"r","type":"quantitative","scale":{"domain":[13.1,-0.63],"nice":false,"zero":false},"axis":null},"text":{"field":"name","type":"nominal"}}},
   {"data":{"name":"at_d"},"mark":{"type":"text","align":"right","baseline":"middle"},
    "encoding":{"x":{"datum":132,"type":"quantitative","scale":{"domain":[800,120],"nice":false,"zero":false},"axis":{"values":[800,600,400,200],"title":"Binding energy (eV)"}},"y":{"field":"r","type":"quantitative","scale":{"domain":[13.1,-0.63],"nice":false,"zero":false},"axis":null},"text":{"field":"val","type":"nominal"}}}
  ]},
 {"width":170,"height":138,"title":{"text":"e)","dx":-16},"resolve":{"scale":{"y":"independent"}},
  "layer":[
   {"data":{"name":"e"},"transform":[{"fold":["raw"],"as":["k","y"]}],"mark":{"type":"line","color":"#b0b0b0","strokeWidth":2.2},
    "encoding":{"x":{"field":"x","type":"quantitative","scale":{"domain":[295,280],"nice":false,"zero":false},"axis":{"values":[295,290,285,280],"title":"Binding energy (eV)"}},"y":{"field":"y","type":"quantitative","scale":{"domain":[0,100],"nice":false},"axis":{"title":"Intensity (a.u.)"}}}},
   {"data":{"name":"e"},"transform":[{"fold":["C-C","C-O","C=O","C-S/C-N","pi-pi*"],"as":["series","y"]}],"mark":{"type":"line","strokeWidth":1},
    "encoding":{"x":{"field":"x","type":"quantitative","scale":{"domain":[295,280],"nice":false,"zero":false},"axis":{"values":[295,290,285,280],"title":"Binding energy (eV)"}},"y":{"field":"y","type":"quantitative","scale":{"domain":[0,100],"nice":false},"axis":null},
     "color":{"field":"series","type":"nominal","scale":{"domain":["C-C","C-O","C=O","C-S/C-N","pi-pi*","S-C","S-O"],"range":["#ff3b3b","#3c3cff","#2e8b2e","#3ddc3d","#ff40ff","#3c3cff","#ff3b3b"]},"legend":null}}},
   {"data":{"name":"e"},"transform":[{"fold":["fit"],"as":["k","y"]}],"mark":{"type":"line","color":"#111","strokeWidth":1.1},
    "encoding":{"x":{"field":"x","type":"quantitative","scale":{"domain":[295,280],"nice":false,"zero":false},"axis":{"values":[295,290,285,280],"title":"Binding energy (eV)"}},"y":{"field":"y","type":"quantitative","scale":{"domain":[0,100],"nice":false},"axis":null}}},
   {"data":{"name":"leg_e"},"mark":{"type":"rule","strokeWidth":1.3},
    "encoding":{"x":{"datum":294.82,"type":"quantitative","scale":{"domain":[295,280],"nice":false,"zero":false},"axis":{"values":[295,290,285,280],"title":"Binding energy (eV)"}},"x2":{"datum":293.24},"y":{"field":"r","type":"quantitative","scale":{"domain":[13.1,-0.63],"nice":false,"zero":false},"axis":null},
     "color":{"field":"series","type":"nominal","scale":{"domain":["C-C","C-O","C=O","C-S/C-N","pi-pi*","S-C","S-O"],"range":["#ff3b3b","#3c3cff","#2e8b2e","#3ddc3d","#ff40ff","#3c3cff","#ff3b3b"]},"legend":null}}},
   {"data":{"name":"leg_e"},"mark":{"type":"text","align":"left","baseline":"middle","fontSize":6},
    "encoding":{"x":{"datum":293.1,"type":"quantitative","scale":{"domain":[295,280],"nice":false,"zero":false},"axis":{"values":[295,290,285,280],"title":"Binding energy (eV)"}},"y":{"field":"r","type":"quantitative","scale":{"domain":[13.1,-0.63],"nice":false,"zero":false},"axis":null},"text":{"field":"series","type":"nominal"}}},
   {"data":{"name":"leg_e"},"mark":{"type":"text","align":"left","baseline":"middle"},
    "encoding":{"x":{"datum":290.75,"type":"quantitative","scale":{"domain":[295,280],"nice":false,"zero":false},"axis":{"values":[295,290,285,280],"title":"Binding energy (eV)"}},"y":{"field":"r","type":"quantitative","scale":{"domain":[13.1,-0.63],"nice":false,"zero":false},"axis":null},"text":{"field":"val","type":"nominal"}}},
   {"data":{"name":"hdr"},"mark":{"type":"text","align":"center","baseline":"middle"},
    "encoding":{"x":{"datum":290.45,"type":"quantitative","scale":{"domain":[295,280],"nice":false,"zero":false},"axis":{"values":[295,290,285,280],"title":"Binding energy (eV)"}},"y":{"field":"r","type":"quantitative","scale":{"domain":[13.1,-0.63],"nice":false,"zero":false},"axis":null},"text":{"field":"t","type":"nominal"}}}
  ]},
 {"width":170,"height":138,"title":{"text":"f)","dx":-15},"resolve":{"scale":{"y":"independent"}},
  "layer":[
   {"data":{"name":"f"},"transform":[{"fold":["raw"],"as":["k","y"]}],"mark":{"type":"line","color":"#a8a8a8","strokeWidth":1},
    "encoding":{"x":{"field":"x","type":"quantitative","scale":{"domain":[175,160],"nice":false,"zero":false},"axis":{"values":[175,170,165,160],"title":"Binding energy (eV)"}},"y":{"field":"y","type":"quantitative","scale":{"domain":[0,100],"nice":false},"axis":{"title":"Intensity (a.u.)"}}}},
   {"data":{"name":"f"},"transform":[{"fold":["S-C","S-O"],"as":["series","y"]}],"mark":{"type":"line","strokeWidth":1},
    "encoding":{"x":{"field":"x","type":"quantitative","scale":{"domain":[175,160],"nice":false,"zero":false},"axis":{"values":[175,170,165,160],"title":"Binding energy (eV)"}},"y":{"field":"y","type":"quantitative","scale":{"domain":[0,100],"nice":false},"axis":null},
     "color":{"field":"series","type":"nominal","scale":{"domain":["C-C","C-O","C=O","C-S/C-N","pi-pi*","S-C","S-O"],"range":["#ff3b3b","#3c3cff","#2e8b2e","#3ddc3d","#ff40ff","#3c3cff","#ff3b3b"]},"legend":null}}},
   {"data":{"name":"f"},"transform":[{"fold":["fit"],"as":["k","y"]}],"mark":{"type":"line","color":"#111","strokeWidth":1.1},
    "encoding":{"x":{"field":"x","type":"quantitative","scale":{"domain":[175,160],"nice":false,"zero":false},"axis":{"values":[175,170,165,160],"title":"Binding energy (eV)"}},"y":{"field":"y","type":"quantitative","scale":{"domain":[0,100],"nice":false},"axis":null}}},
   {"data":{"name":"leg_f"},"mark":{"type":"rule","strokeWidth":1.3},
    "encoding":{"x":{"datum":174.94,"type":"quantitative","scale":{"domain":[175,160],"nice":false,"zero":false},"axis":{"values":[175,170,165,160],"title":"Binding energy (eV)"}},"x2":{"datum":173.3},"y":{"field":"r","type":"quantitative","scale":{"domain":[13.1,-0.63],"nice":false,"zero":false},"axis":null},
     "color":{"field":"series","type":"nominal","scale":{"domain":["C-C","C-O","C=O","C-S/C-N","pi-pi*","S-C","S-O"],"range":["#ff3b3b","#3c3cff","#2e8b2e","#3ddc3d","#ff40ff","#3c3cff","#ff3b3b"]},"legend":null}}},
   {"data":{"name":"leg_f"},"mark":{"type":"text","align":"left","baseline":"middle"},
    "encoding":{"x":{"datum":173.16,"type":"quantitative","scale":{"domain":[175,160],"nice":false,"zero":false},"axis":{"values":[175,170,165,160],"title":"Binding energy (eV)"}},"y":{"field":"r","type":"quantitative","scale":{"domain":[13.1,-0.63],"nice":false,"zero":false},"axis":null},"text":{"field":"series","type":"nominal"}}},
   {"data":{"name":"leg_f"},"mark":{"type":"text","align":"left","baseline":"middle"},
    "encoding":{"x":{"datum":170.47,"type":"quantitative","scale":{"domain":[175,160],"nice":false,"zero":false},"axis":{"values":[175,170,165,160],"title":"Binding energy (eV)"}},"y":{"field":"r","type":"quantitative","scale":{"domain":[13.1,-0.63],"nice":false,"zero":false},"axis":null},"text":{"field":"val","type":"nominal"}}},
   {"data":{"name":"hdr"},"mark":{"type":"text","align":"center","baseline":"middle"},
    "encoding":{"x":{"datum":170.35,"type":"quantitative","scale":{"domain":[175,160],"nice":false,"zero":false},"axis":{"values":[175,170,165,160],"title":"Binding energy (eV)"}},"y":{"field":"r","type":"quantitative","scale":{"domain":[13.1,-0.63],"nice":false,"zero":false},"axis":null},"text":{"field":"t","type":"nominal"}}}
  ]}
],
"columns":3,
"spacing":{"row":29,"column":19.5},
"bounds":"flush"
}
